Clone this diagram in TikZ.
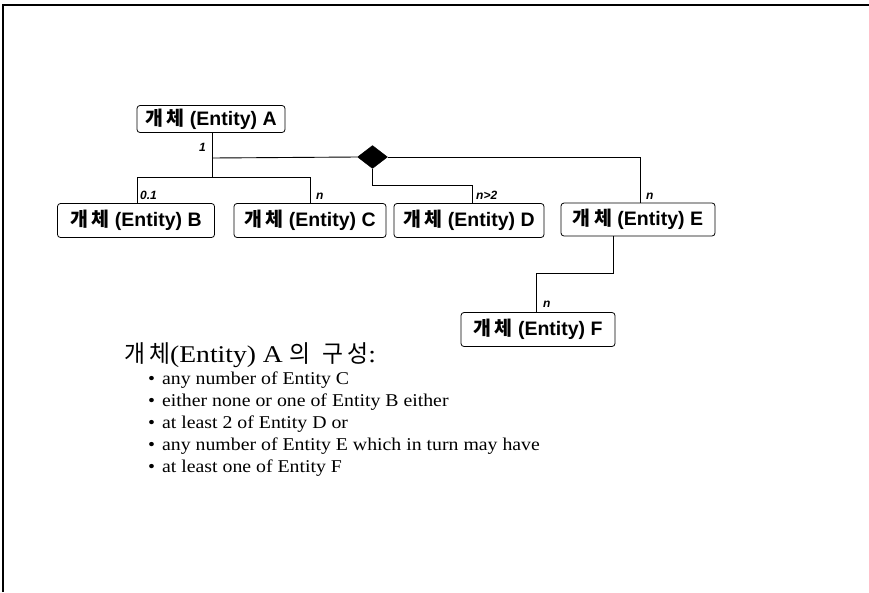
\documentclass[tikz,border=0pt]{standalone}
\usepackage{fontspec}
\setmainfont{Liberation Serif}
\setsansfont{Liberation Sans}
\newfontfamily\kr{Noto Sans CJK KR}
\newfontfamily\wideserif[FakeStretch=1.1]{Liberation Serif}
\newfontfamily\headserif[FakeStretch=1.15]{Liberation Serif}
\newfontfamily\krwide[FakeStretch=0.95]{Noto Sans CJK KR}
\usetikzlibrary{positioning,shapes.geometric}
\tikzset{
  ent/.style={draw, rounded corners=3pt, line width=0.8pt, inner sep=0pt, font=\sffamily\fontsize{19.5}{21}\selectfont\bfseries},
  card/.style={font=\sffamily\bfseries\itshape\fontsize{12}{13}\selectfont, inner sep=0pt},
  conn/.style={line width=0.9pt},
  bul/.style={anchor=west, inner sep=0pt, font=\wideserif\fontsize{18}{20}\selectfont}
}
\begin{document}
\begin{tikzpicture}[x=1pt,y=-1pt]
\useasboundingbox (0,0) rectangle (869,592);
\fill[white] (0,0) rectangle (869,592);
\coordinate (f1) at (3,592);
\coordinate (f2) at (3,5);
\coordinate (f3) at (869,5);
\draw[line width=1.5pt] (f1) -- (f2) -- (f3);

\node[ent, minimum width=148pt, minimum height=27pt] (A) at (211,119) {{\kr 개\,체} (Entity) A};
\node[ent, minimum width=157pt, minimum height=34pt] (B) at (136,220.5) {{\kr 개\,체} (Entity) B};
\node[ent, minimum width=152pt, minimum height=34pt] (C) at (310,220.5) {{\kr 개\,체} (Entity) C};
\node[ent, minimum width=150pt, minimum height=34pt] (D) at (469,220.5) {{\kr 개\,체} (Entity) D};
\node[ent, minimum width=154pt, minimum height=33pt] (E) at (638,219.5) {{\kr 개\,체} (Entity) E};
\node[ent, minimum width=154pt, minimum height=34pt] (F) at (538,329.5) {{\kr 개\,체} (Entity) F};

\node[draw, fill=black, diamond, minimum width=30pt, minimum height=23pt, inner sep=0pt] (dia) at (372.5,157) {};

\coordinate (j1) at (212,158);
\coordinate (j2) at (212,177);
\coordinate (jb) at (137,177);
\coordinate (jc) at (310,177);
\coordinate (jd1) at (372.5,185);
\coordinate (jd2) at (472,185);
\coordinate (je) at (640,157);
\coordinate (jf1) at (613,273);
\coordinate (jf2) at (536,273);

\draw[conn] (A.south -| j1) -- (j2);
\draw[conn] (j1) -- (dia.west);
\draw[conn] (dia.east) -- (je) -- (E.north -| je);
\draw[conn] (jb) -- (jc);
\draw[conn] (jb) -- (B.north -| jb);
\draw[conn] (jc) -- (C.north -| jc);
\draw[conn] (dia.south) -- (jd1) -- (jd2) -- (D.north -| jd2);
\draw[conn] (E.south -| jf1) -- (jf1) -- (jf2) -- (F.north -| jf2);

\node[card, anchor=south east] (l1) at (206,152) {1};
\node[card, anchor=south west] (l2) at (140,200) {0.1};
\node[card, anchor=south west] (l3) at (316,200) {n};
\node[card, anchor=south west] (l4) at (476,200) {n>2};
\node[card, anchor=south west] (l5) at (646,200) {n};
\node[card, anchor=south west] (l6) at (543,308) {n};

\node[anchor=west, inner sep=0pt, font=\headserif\fontsize{24}{28}\selectfont] (h) at (124,355) {{\krwide 개\,체}(Entity) A {\krwide 의\; 구\,성}:};
\node[bul] (b1) at (148,380) {\textbullet\hspace{7pt}any number of Entity C};
\node[bul] (b2) at (148,402) {\textbullet\hspace{7pt}either none or one of Entity B either};
\node[bul] (b3) at (148,424) {\textbullet\hspace{7pt}at least 2 of Entity D or};
\node[bul] (b4) at (148,446) {\textbullet\hspace{7pt}any number of Entity E which in turn may have};
\node[bul] (b5) at (148,468) {\textbullet\hspace{7pt}at least one of Entity F};
\end{tikzpicture}
\end{document}
